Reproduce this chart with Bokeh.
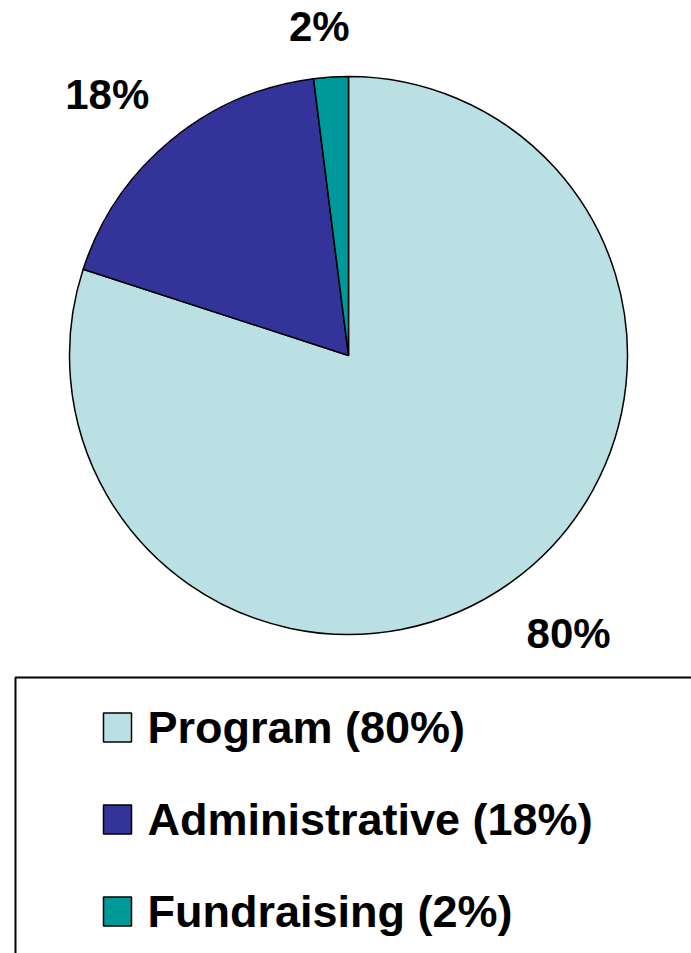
import numpy as np
from bokeh.plotting import figure
from bokeh.models import Range1d, ColumnDataSource
from bokeh.core.properties import value
from bokeh.embed import file_html
from bokeh.resources import INLINE

# ---- data ----
categories = ["Program", "Administrative", "Fundraising"]
shares = [80, 18, 2]
slice_labels = ["80%", "18%", "2%"]
legend_labels = ["Program (80%)", "Administrative (18%)", "Fundraising (2%)"]
colors = ["#BBE0E3", "#333399", "#009999"]

# ---- layout (page pixel coordinates; y grows downward on page) ----
W, H = 691, 953
CX, CY, R = 348, 355, 279
FONT = value("Liberation Sans")
label_nudge_x = [5, -8, -7]   # small manual label placement tweaks (px)
label_nudge_y = [4, 0, 9]

p = figure(width=W, height=H, output_backend="svg", toolbar_location=None,
           x_range=Range1d(0, W), y_range=Range1d(-H, 0),
           x_axis_location=None, y_axis_location=None, min_border=0,
           background_fill_color="white", border_fill_color="white")
p.outline_line_color = None
p.grid.visible = False

# pie wedges, clockwise from 12 o'clock
frac = np.array(shares, dtype=float) / np.sum(shares)
cum = np.concatenate([[0.0], np.cumsum(frac)])
start = np.pi / 2 - 2 * np.pi * cum[:-1]
end = np.pi / 2 - 2 * np.pi * cum[1:]
src = ColumnDataSource(dict(start=start, end=end, color=colors))
p.wedge(x=CX, y=-CY, radius=R, start_angle="start", end_angle="end",
        direction="clock", fill_color="color", line_color="black",
        line_width=1.5, source=src)

# slice labels outside the pie
mid = (start + end) / 2
fs_lab = 42
cap = 0.716 * fs_lab
char_w = {"0": .556, "1": .556, "2": .556, "8": .556, "%": .889}
lx, ly = [], []
gap = 45
for a, t, nx, ny in zip(mid, slice_labels, label_nudge_x, label_nudge_y):
    w = sum(char_w.get(c, .556) for c in t) * fs_lab
    ux, uy = np.cos(a), np.sin(a)
    lx.append(CX + (R + gap + w / 2) * ux + nx)
    ly.append(-CY + (R + gap + cap / 2) * uy - ny)
p.text(x=lx, y=ly, text=slice_labels, text_font=FONT, text_font_style="bold",
       text_font_size=f"{fs_lab}px", text_align="center",
       text_baseline="middle", text_color="black")

# legend box (extends past right/bottom edge)
p.quad(left=15, right=2000, top=-677, bottom=-3000, fill_color="white",
       line_color="black", line_width=2)

row0, drow = 727, 92
ys = [-(row0 + i * drow) for i in range(len(categories))]
p.rect(x=[117] * len(categories), y=ys, width=28, height=29,
       fill_color=colors, line_color="black", line_width=1.5)
fs_leg = 45
p.text(x=[147] * len(categories), y=ys,
       text=legend_labels, text_font=FONT, text_font_style="bold",
       text_font_size=f"{fs_leg}px", text_align="left",
       text_baseline="middle", text_color="black")

open("out.html", "w").write(file_html(p, INLINE))
